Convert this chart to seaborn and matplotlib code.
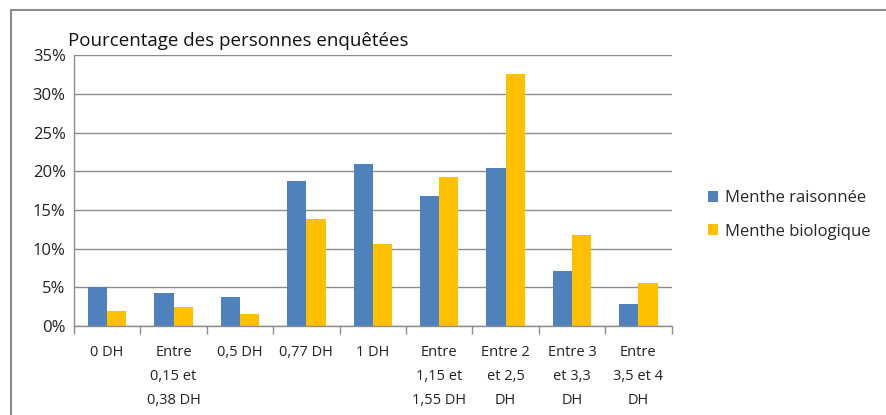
import numpy as np
import pandas as pd
import matplotlib.pyplot as plt
import seaborn as sns
from matplotlib.lines import Line2D
from matplotlib.ticker import PercentFormatter

categories = [
    "0 DH",
    "Entre\n0,15 et\n0,38 DH",
    "0,5 DH",
    "0,77 DH",
    "1 DH",
    "Entre\n1,15 et\n1,55 DH",
    "Entre 2\net 2,5\nDH",
    "Entre 3\net 3,3\nDH",
    "Entre\n3,5 et 4\nDH",
]
raisonnee = [5.0, 4.2, 3.8, 18.7, 21.0, 16.8, 20.4, 7.1, 2.8]
biologique = [1.9, 2.4, 1.6, 13.8, 10.6, 19.2, 32.6, 11.8, 5.6]
series_names = ["Menthe raisonnée", "Menthe biologique"]
colors = ["#4F81BD", "#FFC000"]


def main() -> None:
    df = pd.DataFrame({
        "categorie": categories * 2,
        "valeur": raisonnee + biologique,
        "serie": [series_names[0]] * len(categories) + [series_names[1]] * len(categories),
    })

    sns.set_theme(style="white")
    plt.rcParams["font.family"] = ["Open Sans", "DejaVu Sans"]

    fig = plt.figure(figsize=(8.86, 4.15), dpi=100)
    ax = fig.add_axes([0.0835, 0.2145, 0.6745, 0.6525])

    sns.barplot(
        data=df, x="categorie", y="valeur", hue="serie",
        palette=colors, width=0.58, saturation=1, ax=ax,
        order=categories, hue_order=series_names, linewidth=0,
    )

    ax.set_ylim(0, 35)
    ax.set_xlim(-0.5, len(categories) - 0.5)
    ax.set_yticks(np.arange(0, 36, 5))
    ax.yaxis.set_major_formatter(PercentFormatter(decimals=0))
    ax.grid(axis="y", color="#8c8c8c", linewidth=1)
    ax.set_axisbelow(True)
    ax.set_xlabel("")
    ax.set_ylabel("")

    ax.set_xticks(range(len(categories)))
    ax.set_xticklabels(categories, fontsize=10.5, color="#222222", linespacing=1.8)
    ax.set_xticks(np.arange(-0.5, len(categories), 1), minor=True)
    ax.tick_params(axis="x", which="major", length=0, pad=14)
    ax.tick_params(axis="x", which="minor", length=6, width=1, color="#8c8c8c", direction="out", bottom=True)
    ax.tick_params(axis="y", length=0, labelsize=12, labelcolor="#222222", pad=6)

    for side in ["top", "right"]:
        ax.spines[side].set_visible(False)
    for side in ["left", "bottom"]:
        ax.spines[side].set_color("#8c8c8c")
        ax.spines[side].set_linewidth(1)

    fig.text(0.077, 0.89, "Pourcentage des personnes enquêtées", fontsize=13.5, color="#111111")

    ax.legend(
        loc="center left", bbox_to_anchor=(1.035, 0.41), frameon=False,
        fontsize=12, handlelength=0.65, handleheight=0.65, handletextpad=0.4,
        labelspacing=1.05,
    )

    # outer chart frame: only top and left edges visible in the crop
    fig.lines.append(Line2D([0.012, 0.012], [0.0, 0.976], transform=fig.transFigure,
                            color="#8c8c8c", linewidth=1.5))
    fig.lines.append(Line2D([0.012, 1.0], [0.976, 0.976], transform=fig.transFigure,
                            color="#8c8c8c", linewidth=1.5))

    fig.savefig("out.png", dpi=100)
    plt.close(fig)


if __name__ == "__main__":
    main()
